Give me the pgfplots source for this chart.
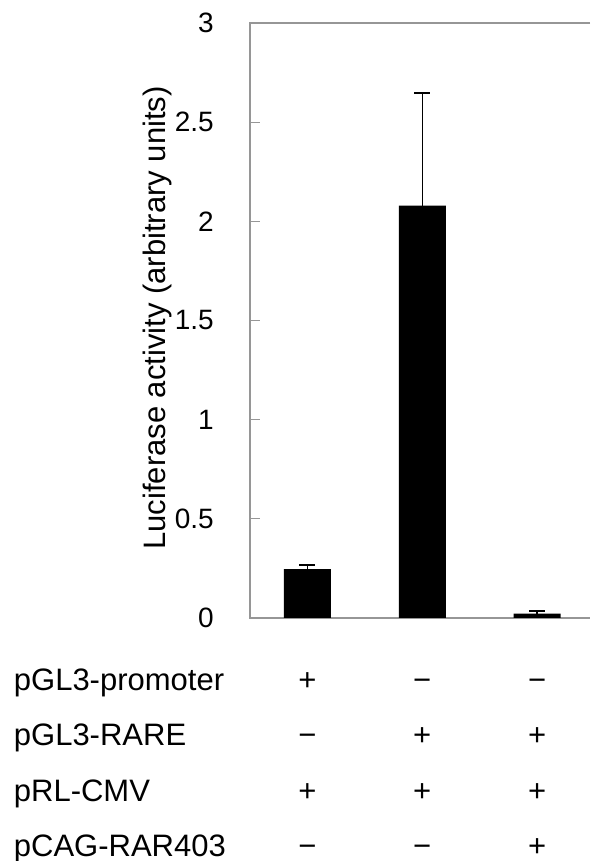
\documentclass[border=0pt]{standalone}
\usepackage{fontspec}
\setmainfont{Liberation Sans}
\usepackage{pgfplots}
\pgfplotsset{compat=1.18}
\newcommand{\fs}{\fontsize{31}{36}\selectfont}
\newcommand{\tfs}{\fontsize{28}{32}\selectfont}
\definecolor{axgray}{RGB}{150,150,150}
\begin{document}
\begin{tikzpicture}
\useasboundingbox (0,0) rectangle (590pt,861pt);
\begin{axis}[
  at={(250pt,243pt)}, anchor=south west,
  scale only axis, width=340pt, height=595pt,
  xmin=-0.5, xmax=2.46, ymin=0, ymax=3,
  clip=false,
  axis line style={draw=none},
  xtick=\empty,
  ytick={0,0.5,1,1.5,2,2.5,3},
  ytick pos=left, tick align=inside, major tick length=10pt,
  y tick style={draw=axgray, line width=1.2pt},
  yticklabel style={font=\tfs, anchor=east, inner sep=0pt, xshift=-36pt},
  /pgf/number format/assume math mode=true,
]
\draw[axgray, line width=1.2pt] (rel axis cs:1,1) -- (rel axis cs:0,1) -- (rel axis cs:0,0) -- (rel axis cs:1,0);
\addplot[ybar, bar width=47pt, fill=black, draw=none,
  error bars/.cd, y dir=plus, y explicit,
  error bar style={line width=1.6pt, black},
  error mark options={rotate=90, mark size=8pt, line width=1.6pt, black}]
  coordinates {(0,0.247) +- (0,0.020) (1,2.079) +- (0,0.567) (2,0.022) +- (0,0.013)};
\node[rotate=90, anchor=base, font=\fs] at (axis cs:-1.235,1.513) {Luciferase activity (arbitrary units)};
% row labels
\node[anchor=base west, font=\fs] at (axis cs:-2.586,-0.368) {pGL3-promoter};
\node[anchor=base west, font=\fs] at (axis cs:-2.586,-0.645) {pGL3-RARE};
\node[anchor=base west, font=\fs] at (axis cs:-2.586,-0.923) {pRL-CMV};
\node[anchor=base west, font=\fs] at (axis cs:-2.586,-1.200) {pCAG-RAR403};
% signs
\node[anchor=base, font=\fs] at (axis cs:0,-0.368) {+};
\node[anchor=base, font=\fs] at (axis cs:1,-0.368) {−};
\node[anchor=base, font=\fs] at (axis cs:2,-0.368) {−};
\node[anchor=base, font=\fs] at (axis cs:0,-0.645) {−};
\node[anchor=base, font=\fs] at (axis cs:1,-0.645) {+};
\node[anchor=base, font=\fs] at (axis cs:2,-0.645) {+};
\node[anchor=base, font=\fs] at (axis cs:0,-0.923) {+};
\node[anchor=base, font=\fs] at (axis cs:1,-0.923) {+};
\node[anchor=base, font=\fs] at (axis cs:2,-0.923) {+};
\node[anchor=base, font=\fs] at (axis cs:0,-1.200) {−};
\node[anchor=base, font=\fs] at (axis cs:1,-1.200) {−};
\node[anchor=base, font=\fs] at (axis cs:2,-1.200) {+};
\end{axis}
\end{tikzpicture}
\end{document}
